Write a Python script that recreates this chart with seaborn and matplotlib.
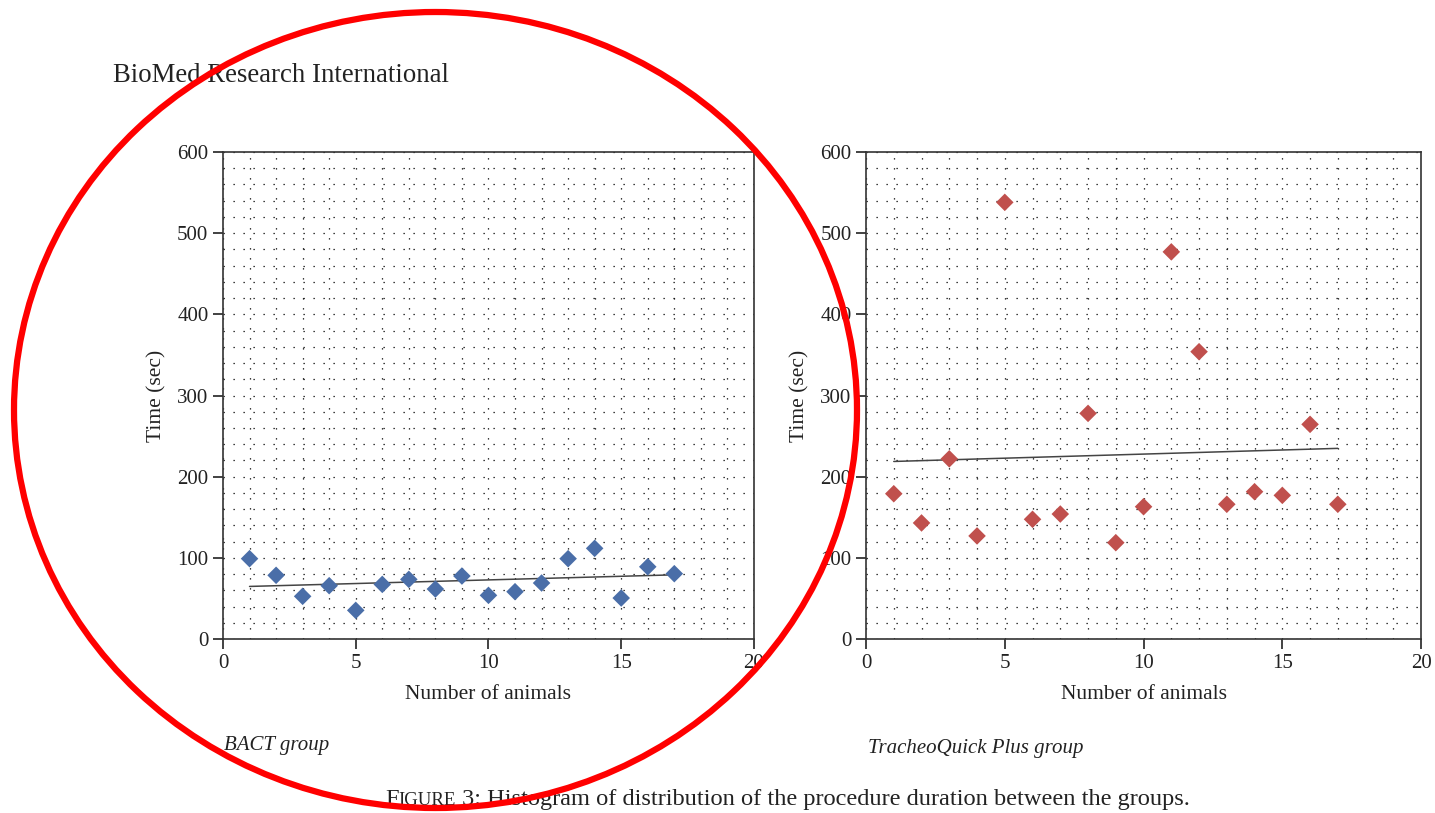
import matplotlib
matplotlib.use('Agg')
import matplotlib.pyplot as plt
from matplotlib.patches import Ellipse
from matplotlib.ticker import MultipleLocator
import pandas as pd
import numpy as np
import seaborn as sns

# Procedure duration per animal
animals = list(range(1, 18))
bact_time = [99, 78.5, 52.6, 65.7, 35.3, 67.3, 73.5, 61.6, 77.6, 53.8, 58.3, 69, 99, 111.7, 50.5, 89, 80.5]
tqp_time = [179, 143, 222, 127, 538, 147.5, 154, 278, 118.7, 163, 477, 354, 166, 181.5, 177, 264.5, 166]

groups = ['BACT group', 'TracheoQuick Plus group']
colors = ['#4a6ea8', '#c0504d']

df_bact = pd.DataFrame({'animal': animals, 'time': bact_time})
df_tqp = pd.DataFrame({'animal': animals, 'time': tqp_time})

sns.set_style('white')
plt.rcParams['font.family'] = ['Liberation Serif', 'DejaVu Serif']

fig = plt.figure(figsize=(14.35, 8.13), dpi=100)
ax1 = fig.add_axes([0.1554, 0.214, 0.370, 0.599])
ax2 = fig.add_axes([0.6035, 0.214, 0.3868, 0.599])

for ax, data, col, name in zip([ax1, ax2], [df_bact, df_tqp], colors, groups):
    sns.scatterplot(data=data, x='animal', y='time', marker='D', s=80,
                    color=col, edgecolor='none', ax=ax, zorder=3)
    sns.regplot(data=data, x='animal', y='time', scatter=False, ci=None,
                color='#444444', line_kws={'linewidth': 1.1}, ax=ax)
    ax.set_xlim(0, 20)
    ax.set_ylim(0, 600)
    ax.xaxis.set_major_locator(MultipleLocator(5))
    ax.yaxis.set_major_locator(MultipleLocator(100))
    ax.xaxis.set_minor_locator(MultipleLocator(1))
    ax.yaxis.set_minor_locator(MultipleLocator(20))
    ax.grid(True, which='both', color='black', linestyle=(0, (1, 7)), linewidth=0.9)
    ax.tick_params(which='minor', length=0)
    ax.tick_params(which='major', direction='out', length=7, width=1.2,
                   labelsize=15, colors='#222222', left=True, bottom=True)
    for sp in ax.spines.values():
        sp.set_color('#333333')
        sp.set_linewidth(1.2)
    ax.set_xlabel('Number of animals', fontsize=15.5, color='#222222', labelpad=9)
    ax.set_ylabel('Time (sec)', fontsize=15.5, color='#222222', labelpad=8)

fig.text(113 / 1435, 1 - 75 / 813, 'BioMed Research International', fontsize=19.3,
         va='center', ha='left', color='#222222')
fig.text(224 / 1435, 1 - 745 / 813, 'BACT group', fontsize=15, style='italic',
         va='center', ha='left', color='#222222')
fig.text(868 / 1435, 1 - 748 / 813, 'TracheoQuick Plus group', fontsize=15, style='italic',
         va='center', ha='left', color='#222222')

# caption with small caps "Figure"
fig.canvas.draw()
r = fig.canvas.get_renderer()
x0 = 385 / 1435
yc = 1 - 805 / 813
parts = [('F', 17.6), ('IGURE', 13.6), (' 3: Histogram of distribution of the procedure duration between the groups.', 17.6)]
for txt, fs in parts:
    t = fig.text(x0, yc, txt, fontsize=fs, va='baseline', ha='left', color='#222222')
    bb = t.get_window_extent(renderer=r)
    x0 += bb.width / fig.bbox.width

fig.add_artist(Ellipse((435.5 / 1435, 1 - 410 / 813), 843 / 1435, 796 / 813,
                       transform=fig.transFigure, fill=False, edgecolor='red',
                       linewidth=4.5, zorder=10))

fig.savefig('out.png', dpi=100)
